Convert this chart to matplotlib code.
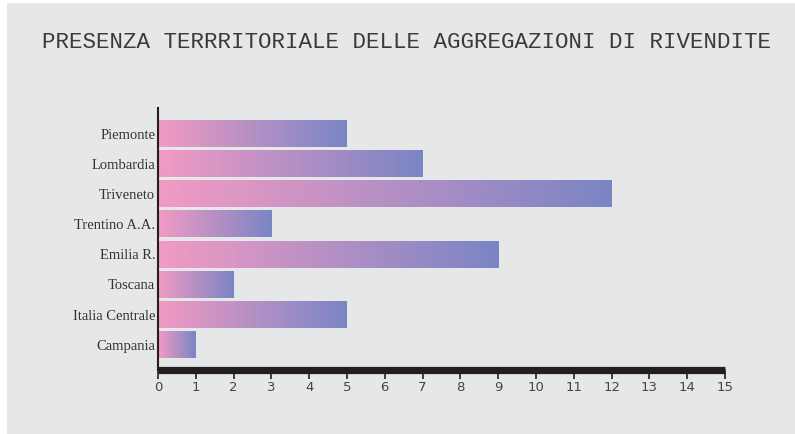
import matplotlib.pyplot as plt
import numpy as np
from matplotlib.colors import LinearSegmentedColormap
from matplotlib.patches import Rectangle

regions = ["Piemonte", "Lombardia", "Triveneto", "Trentino A.A.", "Emilia R.",
           "Toscana", "Italia Centrale", "Campania"]
counts = [5, 7, 12, 3, 9, 2, 5, 1]
x_ticks = list(range(0, 16))
title = "PRESENZA TERRRITORIALE DELLE AGGREGAZIONI DI RIVENDITE"

W, H = 795, 434
fig = plt.figure(figsize=(W / 100, H / 100), dpi=100)
fig.patch.set_facecolor("white")
fig.patches.append(Rectangle((7 / W, 0), 1 - 7 / W, 1 - 3 / H, transform=fig.transFigure,
                             facecolor="#e6e7e8", edgecolor="none", zorder=-10))

# axes placed in pixel terms of the reference
left, right, top, bottom = 158, 725, 108, 369.5
ax = fig.add_axes([left / W, (H - bottom) / H, (right - left) / W, (bottom - top) / H])
ax.patch.set_alpha(0)

grad = LinearSegmentedColormap.from_list("pb", ["#f29bc4", "#7a85c4"])
g = np.linspace(0, 1, 256).reshape(1, -1)
h = 0.44
for i, v in enumerate(counts):
    ax.imshow(g, cmap=grad, extent=[0, v, i + h, i - h], aspect="auto",
              interpolation="bilinear", zorder=2)

ax.set_xlim(0, 15)
ax.set_ylim(7.815, -0.845)
ax.set_xticks(x_ticks)
ax.set_xticklabels([str(t) for t in x_ticks], fontsize=9.5, color="#444444",
                   family="DejaVu Sans")
ax.set_yticks(range(len(regions)))
ax.set_yticklabels(regions, fontsize=10.5, color="#333333", family="Liberation Serif")
ax.tick_params(axis="y", length=0, pad=2)
ax.tick_params(axis="x", length=6.2, width=1.2, color="#231f20", pad=2)

for s in ["top", "right"]:
    ax.spines[s].set_visible(False)
ax.spines["left"].set_linewidth(1.5)
ax.spines["left"].set_color("#231f20")
ax.spines["bottom"].set_linewidth(5.2)
ax.spines["bottom"].set_color("#231f20")
ax.spines["bottom"].set_capstyle("butt")

fig.text(406 / W, 1 - 42 / H, title, ha="center", va="center", fontsize=16.2,
         family="Liberation Mono", color="#3a3a3a")

fig.savefig("out.png", dpi=100)
